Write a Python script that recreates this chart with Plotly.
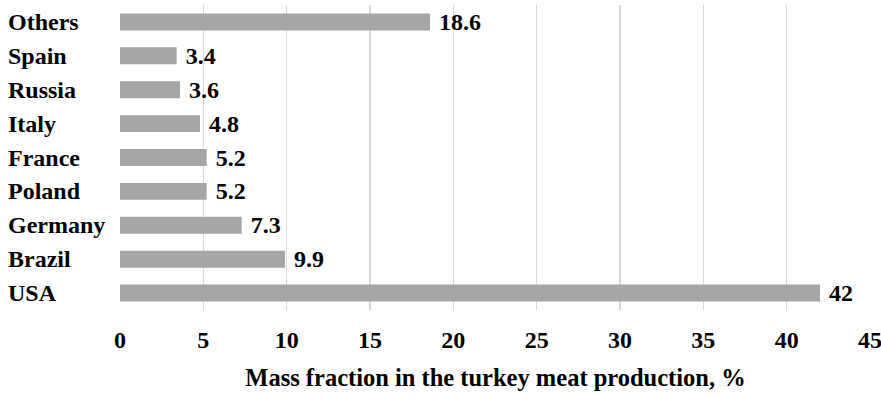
import plotly.graph_objects as go

countries = ["USA", "Brazil", "Germany", "Poland", "France", "Italy", "Russia", "Spain", "Others"]
values = [42, 9.9, 7.3, 5.2, 5.2, 4.8, 3.6, 3.4, 18.6]
x_ticks = [0, 5, 10, 15, 20, 25, 30, 35, 40, 45]
x_title = "Mass fraction in the turkey meat production, %"

FONT = "Liberation Serif"
FS = 24
W, H = 881, 398
ml, mr, mt, mb = 120, 10, 5, 88

fig = go.Figure(go.Bar(
    x=values, y=countries, orientation="h",
    marker=dict(color="#a6a6a6", line=dict(width=0)),
    width=0.5,
    text=["\u00a0" + f"{v:g}" for v in values],
    textposition="outside",
    constraintext="none",
    textfont=dict(family=FONT, size=FS, color="#000000", weight="bold"),
    cliponaxis=False,
    hoverinfo="skip",
))

plot_w = W - ml - mr
for c in countries:
    fig.add_annotation(
        x=(6 - ml) / plot_w, xref="paper", xanchor="left",
        y=c, yref="y", yanchor="middle",
        text=c, showarrow=False,
        font=dict(family=FONT, size=FS, color="#000000", weight="bold"),
    )

fig.update_layout(
    width=W, height=H,
    margin=dict(l=ml, r=mr, t=mt, b=mb, autoexpand=False),
    plot_bgcolor="white", paper_bgcolor="white",
    showlegend=False,
    font=dict(family=FONT, size=FS, color="#000000", weight="bold"),
    xaxis=dict(
        range=[0, 45.06], tickvals=x_ticks, automargin=False,
        showgrid=True, gridcolor="#d9d9d9", gridwidth=1.5,
        zeroline=False, showline=False, ticks="",
        ticklabelstandoff=13, ticklabeloverflow="allow",
        tickfont=dict(family=FONT, size=FS, color="#000000", weight="bold"),
        title=dict(text=x_title, standoff=16,
                   font=dict(family=FONT, size=24.5, color="#000000", weight="bold")),
    ),
    yaxis=dict(
        categoryorder="array", categoryarray=countries, automargin=False,
        showticklabels=False, showgrid=False, zeroline=False, showline=False,
        range=[-0.5, len(countries) - 0.5],
    ),
)

fig.write_html(
    "out.html",
    config={"displayModeBar": False, "staticPlot": True},
    post_script="document.body.style.margin='0';document.body.style.overflow='hidden';",
)
